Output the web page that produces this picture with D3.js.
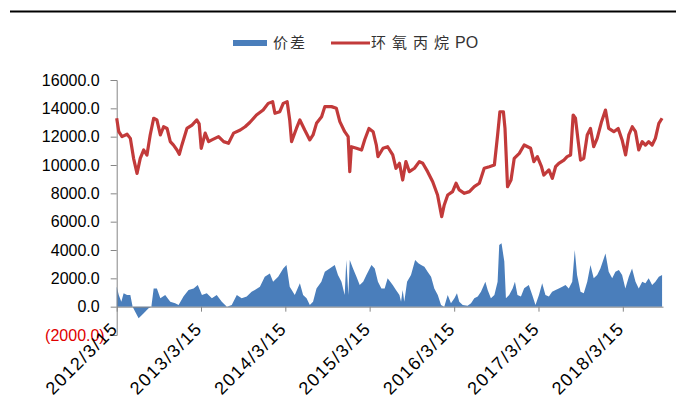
<!DOCTYPE html>
<html>
<head>
<meta charset="utf-8">
<script src="https://cdn.jsdelivr.net/npm/d3@7"></script>
<style>
  body { margin: 0; background: #fff; }
  svg { display: block; font-family: "Liberation Sans", Arial, sans-serif; }
</style>
</head>
<body>
<svg width="680" height="416"></svg>
<script>
// days counted from 2012/3/15
const startDate = new Date(2012, 2, 15);
const endDate = new Date(2018, 8, 5);

const poDays = [0, 9, 23, 45, 59, 73, 88, 102, 117, 131, 145, 160, 174, 189, 203, 218, 232, 246, 261, 271, 282, 304, 326, 347, 357, 366, 383, 398, 412, 441, 463, 484, 506, 535, 556,
  576, 605, 634, 656, 675, 685, 706, 721, 738, 749, 757, 778, 793, 814, 836, 850, 865, 887, 901, 930, 951, 966, 987, 1002, 1009, 1016, 1038, 1060, 1074, 1092, 1110, 1124, 1131, 1153,
  1173, 1195, 1209, 1224, 1238, 1252, 1267, 1289, 1310, 1325, 1346, 1368, 1389, 1407, 1418, 1433, 1454, 1469, 1483, 1505, 1527, 1548, 1570, 1591, 1613, 1635, 1649, 1659, 1674, 1681, 1692, 1707, 1721, 1743, 1764,
  1792, 1806, 1821, 1839, 1849, 1871, 1886, 1900, 1914, 1936, 1950, 1965, 1976, 1986, 1998, 2008, 2022, 2037, 2051, 2065, 2080, 2099, 2116, 2130, 2152, 2171, 2188, 2203, 2217, 2232, 2246, 2260, 2275, 2289, 2303, 2318, 2332, 2347, 2361];
const poValues = [13300, 12350, 12000, 12170, 11880, 10470, 9410, 10470, 11060, 10700, 12120, 13300, 13180, 12120, 12700, 12580, 11650, 11400, 11060, 10750, 11400, 12580, 12820, 13180, 12900, 11180, 12250, 11650, 11770, 12000, 11650, 11530, 12250, 12470, 12700,
  13000, 13530, 13880, 14350, 14470, 13650, 13760, 14350, 14470, 13180, 11650, 12580, 13180, 12470, 11770, 12120, 12940, 13400, 14120, 14120, 14000, 13060, 12350, 12000, 9530, 11290, 11180, 11060, 11800, 12580, 12350, 11410, 10590, 11180,
  11290, 10710, 9770, 10120, 8940, 10240, 9530, 9770, 10240, 10120, 9530, 8820, 7880, 6350, 7180, 7880, 8120, 8710, 8240, 8000, 8120, 8470, 8710, 9770, 9880, 10000, 12120, 13760, 13760, 12580, 8470, 8940, 10470, 10820, 11410,
  11180, 10240, 10590, 9880, 9290, 9650, 9060, 9880, 10120, 10350, 10590, 10710, 13530, 13300, 11650, 10350, 10470, 12120, 12580, 11290, 11880, 13060, 13880, 12580, 12350, 12580, 11770, 10710, 12120, 12700, 12350, 11060, 11650, 11410, 11650, 11410, 11880, 12940, 13300];

const spreadDays = [0, 9, 20, 30, 45, 59, 69, 80, 95, 117, 138, 150, 160, 174, 189, 210, 232, 253, 268, 289, 311, 333, 351, 369, 390, 412, 433, 455, 477, 498, 520, 541, 563, 584,
  598, 620, 641, 663, 677, 699, 721, 735, 749, 771, 793, 807, 822, 836, 850, 865, 886, 901, 922, 944, 958, 973, 987, 994, 1003, 1009, 1023, 1038, 1052, 1067, 1081, 1103, 1117, 1131, 1146, 1160,
  1173, 1195, 1209, 1224, 1231, 1238, 1245, 1257, 1274, 1292, 1306, 1318, 1332, 1346, 1361, 1375, 1390, 1404, 1418, 1433, 1447, 1462, 1473, 1483, 1498, 1519, 1534, 1548, 1563, 1577, 1596, 1606, 1620, 1635, 1649, 1656, 1666, 1678, 1685, 1699, 1714, 1724, 1735, 1750, 1764,
  1784, 1799, 1813, 1828, 1842, 1856, 1871, 1885, 1900, 1914, 1929, 1943, 1957, 1972, 1983, 1993, 2008, 2022, 2037, 2051, 2065, 2080, 2094, 2109, 2116, 2130, 2145, 2159, 2174, 2188, 2202, 2217, 2231, 2246, 2260, 2275, 2289, 2303, 2318, 2332, 2347, 2361];
const spreadValues = [1410, 820, 350, 940, 820, 820, 0, -350, -820, -470, -120, 0, 1290, 1290, 590, 820, 350, 240, 120, 710, 1180, 1290, 1530, 820, 940, 590, 820, 350, 0, 120, 820, 590, 710, 1060,
  1180, 1410, 2120, 2350, 1760, 2120, 2700, 2940, 1410, 820, 1650, 820, 590, 120, 350, 1290, 1760, 2470, 2700, 2940, 2230, 1760, 820, 3290, 820, 3290, 2700, 2120, 1530, 1760, 2230, 2940, 2700, 1760, 1290, 1290,
  2000, 1530, 1180, 820, 350, 1180, 350, 1760, 2230, 3290, 3060, 2940, 2820, 2470, 2120, 1290, 820, 120, 0, 820, 240, 590, 940, 350, 120, 70, 240, 590, 710, 1060, 1760, 1180, 590, 820, 1760, 4350, 4470, 3180, 590, 820, 1290, 1760, 820, 710, 1300,
  1530, 820, 120, 820, 1650, 820, 710, 1060, 1180, 1290, 1410, 1530, 1290, 1760, 4000, 2230, 1060, 940, 1760, 2940, 2000, 2230, 2700, 3410, 3760, 2470, 2000, 2470, 2590, 2230, 1290, 2120, 2700, 1760, 1290, 1760, 1650, 2000, 1530, 1760, 2120, 2230];

const yTicks = [-2000, 0, 2000, 4000, 6000, 8000, 10000, 12000, 14000, 16000];
const xTickYears = [2012, 2013, 2014, 2015, 2016, 2017, 2018];
const seriesNames = ["价差", "环氧丙烷", "PO"];

const svg = d3.select("svg");
const axisFont = "'Liberation Sans', Arial, sans-serif";

const x = d3.scaleTime().domain([startDate, endDate]).range([116.7, 663]);
const y = d3.scaleLinear().domain([-2000, 16000]).range([335, 80]);

const po = poDays.map((d, i) => ({ date: d3.timeDay.offset(startDate, d), value: poValues[i] }));
const spread = spreadDays.map((d, i) => ({ date: d3.timeDay.offset(startDate, d), value: spreadValues[i] }));

// top rule
svg.append("line")
  .attr("x1", 10).attr("x2", 676)
  .attr("y1", 11.5).attr("y2", 11.5)
  .attr("stroke", "#000").attr("stroke-width", 2);

// blue area
svg.append("path")
  .datum(spread)
  .attr("fill", "#4A7EBB")
  .attr("d", d3.area().x(d => x(d.date)).y0(y(0)).y1(d => y(d.value)));

// y axis, positives keep a trailing gap like Excel's "_)" format
const yAxis = svg.append("g")
  .attr("transform", "translate(116.7,0)")
  .call(d3.axisLeft(y).tickValues(yTicks).tickSize(6).tickPadding(6)
    .tickFormat(d => d < 0 ? "(" + d3.format(".1f")(-d) + ")" : d3.format(".1f")(d)));
yAxis.attr("font-family", axisFont).attr("font-size", 16);
yAxis.select(".domain").attr("stroke", "#868686");
yAxis.selectAll(".tick line").attr("stroke", "#868686");
yAxis.selectAll(".tick text")
  .attr("fill", d => d < 0 ? "#E00000" : "#000")
  .attr("dx", d => d < 0 ? 0 : -5);

// x axis at zero
const xAxis = svg.append("g")
  .attr("transform", "translate(0," + y(0) + ")")
  .call(d3.axisBottom(x)
    .tickValues(xTickYears.map(yr => new Date(yr, 2, 15)))
    .tickSize(5).tickSizeOuter(0)
    .tickFormat(d3.timeFormat("%Y/%-m/%-d")));
xAxis.attr("font-family", axisFont).attr("font-size", 18);
xAxis.select(".domain").attr("stroke", "#868686");
xAxis.selectAll(".tick line").attr("stroke", "#868686");
xAxis.selectAll(".tick text")
  .attr("fill", "#000")
  .attr("letter-spacing", 1.5)
  .style("text-anchor", "end")
  .attr("x", 0).attr("y", 0).attr("dy", 0)
  .attr("transform", "translate(2,23) rotate(-45)");

// red line
svg.append("path")
  .datum(po)
  .attr("fill", "none")
  .attr("stroke", "#C23A3A")
  .attr("stroke-width", 3.2)
  .attr("stroke-linejoin", "round")
  .attr("d", d3.line().x(d => x(d.date)).y(d => y(d.value)));

// legend
const legend = svg.append("g")
  .attr("font-family", "'Noto Sans CJK SC', sans-serif")
  .attr("font-size", 15)
  .attr("fill", "#333");
legend.append("rect")
  .attr("x", 233).attr("y", 40).attr("width", 34).attr("height", 6)
  .attr("fill", "#4A7EBB");
legend.append("text")
  .attr("x", 273).attr("y", 43).attr("dy", "0.35em")
  .attr("letter-spacing", 2)
  .text(seriesNames[0]);
legend.append("line")
  .attr("x1", 331).attr("x2", 370).attr("y1", 43).attr("y2", 43)
  .attr("stroke", "#C23A3A").attr("stroke-width", 3);
const poLabel = legend.append("text")
  .attr("x", 371).attr("y", 43).attr("dy", "0.35em");
poLabel.append("tspan")
  .attr("letter-spacing", 6)
  .text(seriesNames[1]);
poLabel.append("tspan")
  .attr("font-family", axisFont)
  .attr("font-size", 16)
  .text(seriesNames[2]);
</script>
</body>
</html>
